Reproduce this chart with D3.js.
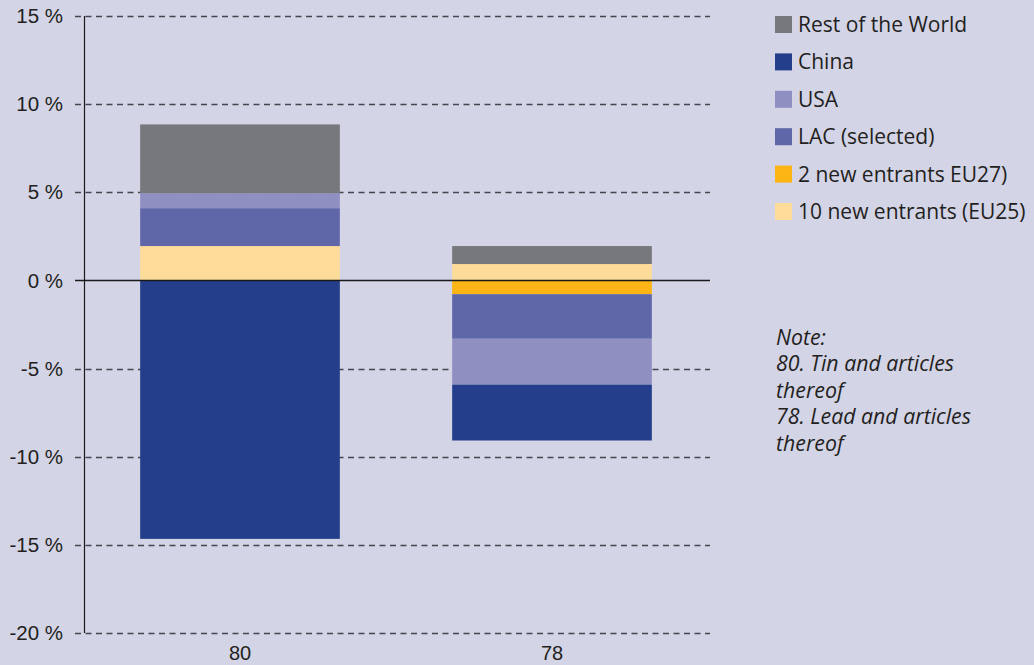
<!DOCTYPE html>
<html>
<head>
<meta charset="utf-8">
<script src="https://cdn.jsdelivr.net/npm/d3@7"></script>
<style>
  html, body { margin: 0; padding: 0; background: #d3d4e6; }
  svg { display: block; }
</style>
</head>
<body>
<svg id="chart" width="1034" height="665"></svg>
<script>
// Product codes (x categories)
const categories = ["80", "78"];

// Series in stacking order (nearest the zero line first)
const seriesNames = ["10 new entrants (EU25)", "2 new entrants EU27)", "LAC (selected)", "USA", "China", "Rest of the World"];

// Contribution of each region, in percentage points, per product
const tenNewEntrants = [1.95, 0.93];
const twoNewEntrants = [0, -0.78];
const lacSelected   = [2.15, -2.53];
const usa           = [0.85, -2.6];
const china         = [-14.66, -3.17];
const restOfWorld   = [3.9, 1.02];

const yTicks = [15, 10, 5, 0, -5, -10, -15, -20];

// Legend order (top to bottom)
const legendOrder = ["Rest of the World", "China", "USA", "LAC (selected)", "2 new entrants EU27)", "10 new entrants (EU25)"];

const noteLines = ["Note:", "80. Tin and articles", "thereof", "78. Lead and articles", "thereof"];

const colors = {
  "Rest of the World": "#77787c",
  "China": "#243e8c",
  "USA": "#8f90c1",
  "LAC (selected)": "#5f67a8",
  "2 new entrants EU27)": "#fdb515",
  "10 new entrants (EU25)": "#fddb98"
};

const valuesBySeries = {
  "10 new entrants (EU25)": tenNewEntrants,
  "2 new entrants EU27)": twoNewEntrants,
  "LAC (selected)": lacSelected,
  "USA": usa,
  "China": china,
  "Rest of the World": restOfWorld
};

const rows = categories.map((c, i) => {
  const r = { category: c };
  seriesNames.forEach(s => r[s] = valuesBySeries[s][i]);
  return r;
});

const svg = d3.select("#chart");
const plot = { left: 84, right: 710, top: 16, bottom: 633 };

const x = d3.scaleBand()
  .domain(categories)
  .range([plot.left, 708])
  .paddingInner(0.36)
  .paddingOuter(0.18);

const y = d3.scaleLinear()
  .domain([-20, 15])
  .range([plot.bottom, plot.top]);

const axisFont = "'Liberation Sans', Arial, sans-serif";
const textFont = "'Open Sans', 'Noto Sans', sans-serif";

// Dashed gridlines (zero is drawn later as a solid line)
svg.append("g")
  .selectAll("line")
  .data(yTicks.filter(t => t !== 0))
  .join("line")
  .attr("x1", 75)
  .attr("x2", plot.right)
  .attr("y1", d => Math.round(y(d)) + 0.5)
  .attr("y2", d => Math.round(y(d)) + 0.5)
  .attr("stroke", "#45454d")
  .attr("stroke-width", 1.3)
  .attr("stroke-dasharray", "6,4.5");

// Stacked bars, diverging around zero
const stack = d3.stack()
  .keys(seriesNames)
  .offset(d3.stackOffsetDiverging);
const layers = stack(rows);

svg.append("g")
  .selectAll("g")
  .data(layers)
  .join("g")
  .attr("fill", d => colors[d.key])
  .selectAll("rect")
  .data(d => d.filter(p => p[1] !== p[0]))
  .join("rect")
  .attr("x", d => x(d.data.category))
  .attr("width", x.bandwidth())
  .attr("y", d => y(Math.max(d[0], d[1])))
  .attr("height", d => Math.abs(y(d[0]) - y(d[1])));

// Zero line
svg.append("line")
  .attr("x1", 75)
  .attr("x2", plot.right)
  .attr("y1", Math.round(y(0)) + 0.5)
  .attr("y2", Math.round(y(0)) + 0.5)
  .attr("stroke", "#1a1a1a")
  .attr("stroke-width", 1.3);

// Y axis line
svg.append("line")
  .attr("x1", plot.left + 0.5)
  .attr("x2", plot.left + 0.5)
  .attr("y1", plot.top)
  .attr("y2", plot.bottom)
  .attr("stroke", "#1a1a1a")
  .attr("stroke-width", 1.2);

// Y tick labels
svg.append("g")
  .selectAll("text")
  .data(yTicks)
  .join("text")
  .attr("x", 63)
  .attr("y", d => y(d))
  .attr("dy", "0.35em")
  .attr("text-anchor", "end")
  .attr("font-family", axisFont)
  .attr("font-size", 20.5)
  .attr("fill", "#231f20")
  .text(d => d + " %");

// X category labels
svg.append("g")
  .selectAll("text")
  .data(categories)
  .join("text")
  .attr("x", d => x(d) + x.bandwidth() / 2)
  .attr("y", 653)
  .attr("dy", "0.35em")
  .attr("text-anchor", "middle")
  .attr("font-family", axisFont)
  .attr("font-size", 20)
  .attr("fill", "#231f20")
  .text(d => d);

// Legend
const legend = svg.append("g")
  .selectAll("g")
  .data(legendOrder)
  .join("g")
  .attr("transform", (d, i) => `translate(775, ${24.5 + i * 37.4})`);

legend.append("rect")
  .attr("x", 0)
  .attr("y", -8.5)
  .attr("width", 17)
  .attr("height", 17)
  .attr("fill", d => colors[d]);

legend.append("text")
  .attr("x", 23)
  .attr("y", 0)
  .attr("dy", "0.36em")
  .attr("font-family", textFont)
  .attr("font-size", 21)
  .attr("fill", "#231f20")
  .text(d => d);

// Note
svg.append("g")
  .selectAll("text")
  .data(noteLines)
  .join("text")
  .attr("x", 776)
  .attr("y", (d, i) => 337 + i * 26.6)
  .attr("dy", "0.36em")
  .attr("font-family", textFont)
  .attr("font-style", "italic")
  .attr("font-size", 21.3)
  .attr("fill", "#231f20")
  .text(d => d);
</script>
</body>
</html>
